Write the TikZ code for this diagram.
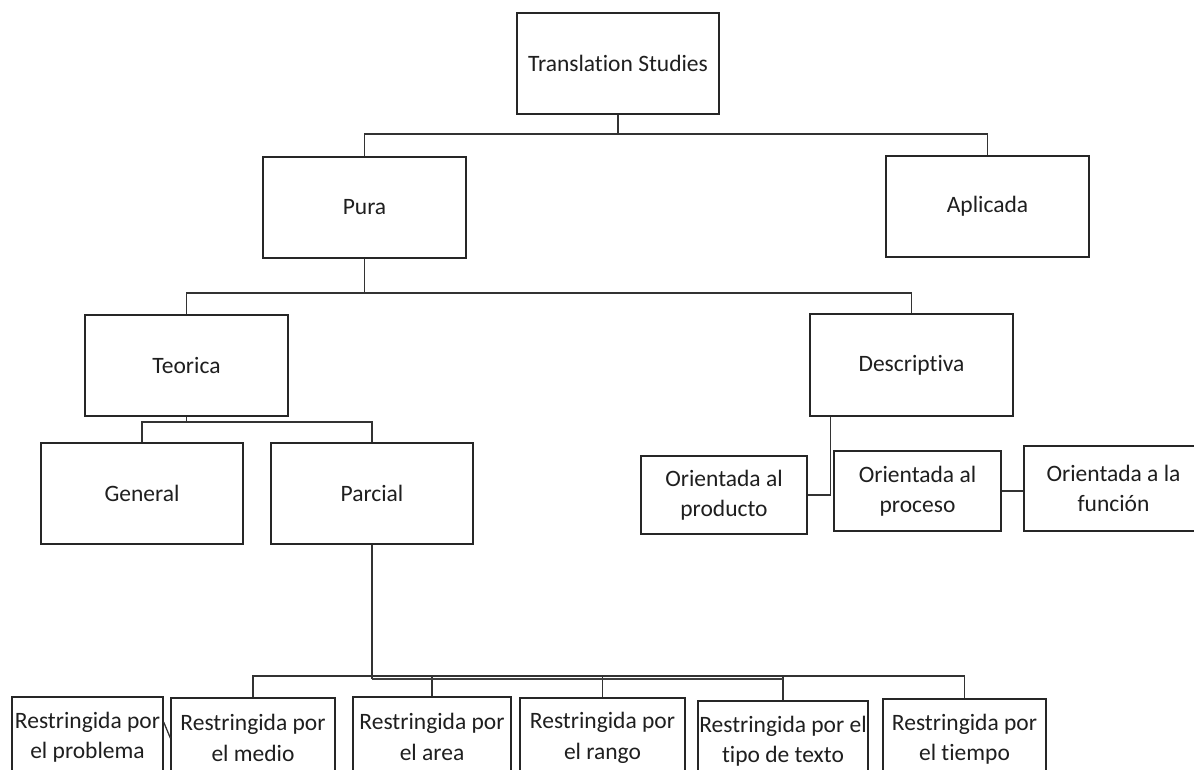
\documentclass[tikz,border=0pt]{standalone}
\usepackage{fontspec}
\setmainfont{Carlito}[Ligatures={NoCommon,NoRare}]
\begin{document}
\begin{tikzpicture}[x=1pt,y=-1pt,
  box/.style={draw=black!85, line width=1.3pt, rectangle, inner sep=0pt, align=center,
    text=black!88, font=\fontsize{23.5pt}{30.5pt}\selectfont},
  conn/.style={draw=black!80, line width=1.3pt},
  heavy/.style={draw=black!75, line width=2.2pt}]
\useasboundingbox (0,0) rectangle (1194,769);
\fill[white] (0,0) rectangle (1194,769);
\clip (0,0) rectangle (1194,769);

% boxes
\node[box, minimum width=202pt, minimum height=101pt] (ts)   at (618,63.5)  {Translation Studies};
\node[box, minimum width=203pt, minimum height=101pt] (pura) at (364.5,207.5) {Pura};
\node[box, minimum width=203pt, minimum height=101pt] (apl)  at (987.5,206.5) {Aplicada};
\node[box, minimum width=203pt, minimum height=101pt] (teo)  at (186.5,365.5) {Teorica};
\node[box, minimum width=203pt, minimum height=102pt] (des)  at (911.5,365)  {Descriptiva};
\node[box, minimum width=202pt, minimum height=101pt] (gen)  at (142,493.5)  {General};
\node[box, minimum width=202pt, minimum height=101pt] (par)  at (372,493.5)  {Parcial};
\node[box, minimum width=166pt, minimum height=78pt]  (prod) at (724,495)    {Orientada al\\producto};
\node[box, minimum width=167pt, minimum height=80pt]  (proc) at (917.5,491)  {Orientada al\\proceso};
\node[box, minimum width=179pt, minimum height=85pt]  (fun)  at (1113.5,488.5) {Orientada a la\\función};

\node[box, minimum width=151pt, minimum height=80pt] (prob) at (87.5,737)  {Restringida por\\el problema};
\node[box, minimum width=164pt, minimum height=80pt] (med)  at (253,738)   {Restringida por\\el medio};
\node[box, minimum width=158pt, minimum height=80pt] (are)  at (432,737)   {Restringida por\\el area};
\node[box, minimum width=165pt, minimum height=80pt] (ran)  at (602.5,738) {Restringida por\\el rango};
\node[box, minimum width=170pt, minimum height=80pt] (tip)  at (783,741)   {Restringida por el\\tipo de texto};
\node[box, minimum width=163pt, minimum height=80pt] (tie)  at (964.5,739) {Restringida por\\el tiempo};

% bus levels
\coordinate (b1) at (0,134);
\coordinate (b2) at (0,293);
\coordinate (b3) at (0,422);
\coordinate (b4) at (0,676);
\coordinate (b5) at (0,679);

% connectors
\draw[conn] (ts.south) -- (ts.south |- b1) -| (pura.north);
\draw[conn] (ts.south |- b1) -| (apl.north);
\draw[conn] (pura.south) -- (pura.south |- b2) -| (teo.north);
\draw[conn] (pura.south |- b2) -| (des.north);
\draw[conn] (teo.south) -- (teo.south |- b3) -| (gen.north);
\draw[conn] (teo.south |- b3) -| (par.north);

\draw[conn] (med.north) -- (med.north |- b4) -- (tie.north |- b4) -- (tie.north);
\draw[conn] (are.north |- b4) -- (are.north);
\draw[conn] (ran.north |- b4) -- (ran.north);
\draw[conn] (tip.north |- b4) -- (tip.north);
\draw[conn] (par.south) -- (par.south |- b5);
\draw[heavy] (par.south |- b5) -- (tip.north |- b5);

\draw[conn] ([xshift=21pt]des.south west) |- (prod.east);
\draw[conn] (proc.east) -- (proc.east -| fun.west);
\draw[conn] (prob.east) ++(0,-15) -- (med.west);
\end{tikzpicture}
\end{document}
